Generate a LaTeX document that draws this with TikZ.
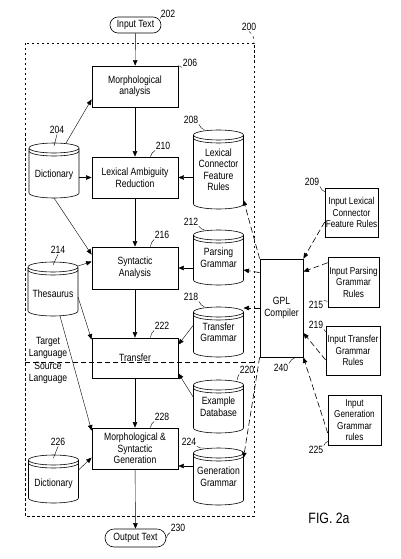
\documentclass[tikz,border=0pt]{standalone}
\usepackage{fontspec}
\setmainfont{Liberation Sans}[FakeStretch=0.82]
\usetikzlibrary{arrows.meta}

\tikzset{
  stage/.style={draw, thick, minimum width=86pt, minimum height=41pt, align=center, inner sep=1pt},
  inbox/.style={draw, semithick, minimum width=53pt, minimum height=49pt, align=center, inner sep=0pt,
    font=\fontsize{10}{11.5}\selectfont},
  pill/.style={draw, semithick, rounded corners=8pt, minimum height=16pt, inner sep=1pt},
  drum/.style={minimum width=50pt, minimum height=#1, align=center, inner sep=0pt, outer sep=0pt,
    execute at begin node={\rule{0pt}{17pt}}},
  num/.style={inner sep=0.5pt},
  lead/.style={thin},
  cdash/.style={semithick, dash pattern=on 6pt off 3pt},
}

\begin{document}
\begin{tikzpicture}[x=1pt,y=-1pt,>={Triangle[length=5.5pt,width=4.5pt]},font=\fontsize{10.5}{11.5}\selectfont]
\useasboundingbox (0,0) rectangle (400,559);
% system boundary
\draw[dash pattern=on 2.5pt off 2.5pt] (25,43) rectangle (254,516);
\coordinate (bx) at (254,43);
\draw[dash pattern=on 5pt off 3pt] (25,362) -- (257,362);
\node[align=center, inner sep=0pt] (tgt) at (48,348) {Target\\Language};
\node[align=center, inner sep=0pt] (src) at (48,373) {Source\\Language};

% main chain
\node[pill, minimum width=51pt] (intext) at (135.5,25) {Input Text};
\node[stage] (morph) at (135,86.5) {Morphological\\analysis};
\node[stage] (lexred) at (135,177.5) {Lexical Ambiguity\\Reduction};
\node[stage, minimum height=42pt] (synt) at (135,268) {Syntactic\\Analysis};
\node[stage, minimum height=40pt] (transf) at (135,358) {Transfer};
\node[stage] (msgen) at (135,448.5) {Morphological \&\\Syntactic\\Generation};
\node[pill, minimum width=61pt, minimum height=18pt, rounded corners=9pt] (outtext) at (135.5,538) {Output Text};

% stores
\node[drum=55pt] (dica) at (54,170.5) {Dictionary};
\node[drum=54pt] (thes) at (53,289) {Thesaurus};
\node[drum=48pt] (dicb) at (53.5,479) {Dictionary};
\node[drum=79pt] (lcfr) at (218.5,169.5) {Lexical\\Connector\\Feature\\Rules};
\node[drum=55pt] (pars) at (218.5,257.5) {Parsing\\Grammar};
\node[drum=50pt] (trg) at (218.5,332) {Transfer\\Grammar};
\node[drum=53pt] (exdb) at (218.5,406.5) {Example\\Database};
\node[drum=57pt] (geng) at (218.5,476.5) {Generation\\Grammar};
\foreach \d in {dica,thes,dicb,lcfr,pars,trg,exdb,geng}{
  \draw[semithick] ([yshift=-5pt]\d.north west) -- ([yshift=5pt]\d.south west)
    arc[start angle=180,end angle=360,x radius=25pt,y radius=5pt]
    -- ([yshift=-5pt]\d.north east) arc[start angle=0,end angle=360,x radius=25pt,y radius=5pt];
  \draw[semithick] ([yshift=-8pt]\d.north west) arc[start angle=180,end angle=360,x radius=25pt,y radius=5pt];
}

% compiler and rule inputs
\node[draw, thick, minimum width=43pt, minimum height=98pt, align=center, inner sep=0pt] (gpl) at (281.5,308) {GPL\\Compiler};
\draw[line width=1.6pt] (gpl.north east) -- (gpl.south east) -- (gpl.south west);
\node[inbox] (inlex) at (351.5,212.5) {Input Lexical\\Connector\\Feature Rules};
\node[inbox, minimum width=51pt, minimum height=50pt] (inpars) at (353.5,282) {Input Parsing\\Grammar\\Rules};
\node[inbox, minimum width=54pt] (intrans) at (353,350.5) {Input Transfer\\Grammar\\Rules};
\node[inbox, minimum height=50pt] (ingen) at (354.5,420) {Input\\Generation\\Grammar\\rules};

% flow
\draw[->] (intext) -- (morph);
\draw[->] (morph) -- (lexred);
\draw[->] (lexred) -- (synt);
\draw[->] (synt) -- (transf);
\draw[->] (transf) -- (msgen);
\draw[->] (msgen) -- (outtext);
\draw[->] ([xshift=12pt]dica.north) -- ([yshift=8pt]morph.south west);
\draw[->] (dica.east |- lexred) -- (lexred.west);
\draw[->] (lcfr.west |- lexred) -- (lexred.east);
\draw[->] (dica.south) -- ([yshift=-8pt]synt.north west);
\draw[->] ([yshift=-4pt]thes.north east) -- ([yshift=-15pt]synt.north west);
\draw[->] ([yshift=-8pt]thes.east) -- ([yshift=-2pt]transf.north west);
\draw[->] ([xshift=7pt]thes.south) -- ([yshift=-3pt]msgen.north west);
\draw[->] ([yshift=-15pt]dicb.north east) -- ([yshift=-30pt]msgen.north west);
\draw[->] (pars.west |- synt) -- (synt.east);
\draw[->] ([yshift=7pt]trg.west) -- ([yshift=-7pt]transf.north east);
\draw[->] ([yshift=9pt]exdb.west) -- ([yshift=5pt]transf.south east);
\draw[->] ([yshift=10.5pt]geng.west) -- ([yshift=-17.5pt]msgen.east);

% compiler outputs and inputs
\draw[cdash,->] (gpl.north west) -- ([yshift=9pt]lcfr.south east);
\draw[cdash,->] ([yshift=-14pt]gpl.north west) -- ([yshift=-12.5pt]pars.east);
\draw[cdash,->] (gpl.west) -- (gpl.west -| trg.east);
\draw[cdash,->] (gpl.south west) -- ([yshift=-10pt]geng.north east);
\draw[cdash,->] ([yshift=-9.5pt]inlex.west) -- (gpl.north east);
\draw[cdash,->] ([yshift=-6pt]inpars.north west) -- ([yshift=-13pt]gpl.north east);
\draw[cdash,->] ([yshift=-9.5pt]intrans.west) -- ([yshift=-25pt]gpl.east);
\draw[cdash,->] ([yshift=-13pt]ingen.west) -- (gpl.south east);

% reference numerals
\node[num] (n202) at (168,14) {202};
\node[num] (n200) at (249,27) {200};
\node[num] (n206) at (190,63) {206};
\node[num] (n204) at (57,130) {204};
\node[num] (n210) at (163,146) {210};
\node[num] (n208) at (191,120) {208};
\node[num] (n216) at (162,235) {216};
\node[num] (n214) at (58,250) {214};
\node[num] (n212) at (191,222) {212};
\node[num] (n218) at (191,297) {218};
\node[num] (n222) at (162,326) {222};
\node[num] (n220) at (247,370) {220};
\node[num] (n228) at (162,417) {228};
\node[num] (n226) at (58,442) {226};
\node[num] (n224) at (189,442) {224};
\node[num] (n230) at (178,528) {230};
\node[num] (n240) at (281,368) {240};
\node[num] (n209) at (312,182) {209};
\node[num] (n215) at (316,305) {215};
\node[num] (n219) at (316,325) {219};
\node[num] (n225) at (316,450) {225};
\draw[lead] (n202.south west) to[bend left=20] (intext.north east);
\draw[lead, dashed] (n200.south) to[bend left=30] (bx);
\draw[lead] (n206.south west) to[bend left=20] (morph.north east);
\draw[lead] (n204.south) -- ([yshift=-3pt]dica.north);
\draw[lead] (n210.south west) to[bend right=20] ([xshift=-28pt]lexred.north east);
\draw[lead] (n208.south east) to[bend right=20] ([xshift=-14pt]lcfr.north);
\draw[lead] (n216.south west) to[bend right=20] ([xshift=-28pt]synt.north east);
\draw[lead] (n214.south) -- ([yshift=-3pt]thes.north);
\draw[lead] (n212.south east) to[bend right=20] ([xshift=-14pt]pars.north);
\draw[lead] (n218.south east) to[bend right=20] ([xshift=-14pt]trg.north);
\draw[lead] (n222.south west) to[bend right=20] ([xshift=-28pt]transf.north east);
\draw[lead] (n220.south west) to[bend right=20] ([xshift=-6pt]exdb.north east);
\draw[lead] (n228.south west) to[bend right=20] ([xshift=-28pt]msgen.north east);
\draw[lead] (n226.south) -- ([yshift=-3pt]dicb.north);
\draw[lead] (n224.south east) to[bend right=20] ([xshift=-14pt]geng.north);
\draw[lead] (n230.south west) to[bend right=20] (outtext.east);
\draw[lead] (n240.north east) to[bend left=20] ([xshift=-8pt]gpl.south east);
\draw[lead] (n209.south east) to[bend right=20] ([yshift=-4pt]inlex.north west);
\draw[lead] (n215.north east) to[bend left=20] ([yshift=6pt]inpars.south west);
\draw[lead] (n219.south east) to[bend right=20] ([yshift=-6pt]intrans.north west);
\draw[lead] (n225.north east) to[bend left=20] ([yshift=4pt]ingen.south west);

\node[font=\fontsize{15}{15}\selectfont] (fig) at (329,518) {FIG. 2a};
\end{tikzpicture}
\end{document}
